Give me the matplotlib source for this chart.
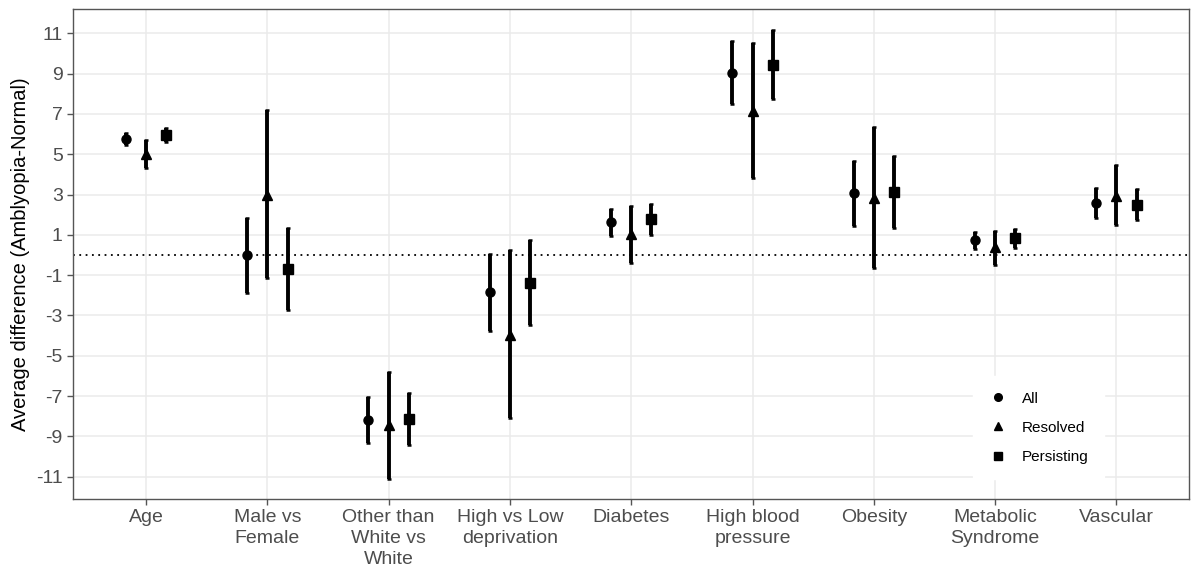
import matplotlib
matplotlib.use("Agg")
import matplotlib.pyplot as plt
from matplotlib.lines import Line2D
import numpy as np

categories = ["Age", "Male vs\nFemale", "Other than\nWhite vs\nWhite", "High vs Low\ndeprivation",
              "Diabetes", "High blood\npressure", "Obesity", "Metabolic\nSyndrome", "Vascular"]
groups = ["All", "Resolved", "Persisting"]

all_est = [5.75, 0.0, -8.2, -1.85, 1.65, 9.05, 3.1, 0.72, 2.6]
all_lo  = [5.45, -1.87, -9.35, -3.75, 0.95, 7.5, 1.45, 0.3, 1.85]
all_hi  = [6.05, 1.85, -7.05, 0.05, 2.3, 10.6, 4.65, 1.15, 3.35]

res_est = [5.0, 3.0, -8.45, -3.95, 1.05, 7.15, 2.85, 0.4, 2.95]
res_lo  = [4.3, -1.15, -11.1, -8.1, -0.4, 3.8, -0.65, -0.5, 1.5]
res_hi  = [5.7, 7.2, -5.8, 0.25, 2.45, 10.5, 6.35, 1.2, 4.45]

per_est = [5.95, -0.7, -8.15, -1.4, 1.8, 9.45, 3.15, 0.82, 2.5]
per_lo  = [5.6, -2.75, -9.45, -3.45, 1.0, 7.75, 1.35, 0.35, 1.75]
per_hi  = [6.3, 1.35, -6.85, 0.75, 2.55, 11.15, 4.9, 1.3, 3.3]

yticks = [-11, -9, -7, -5, -3, -1, 1, 3, 5, 7, 9, 11]

plt.rcParams['font.family'] = ['Liberation Sans', 'DejaVu Sans']

fig = plt.figure(figsize=(12, 5.74), dpi=100)
ax = fig.add_axes([0.061, 0.131, 0.930, 0.853])

x = np.arange(1, len(categories) + 1)
offs = [-0.167, 0.0, 0.167]
markers = ["o", "^", "s"]
msizes = [6.5, 7.5, 6.5]
series = [(all_est, all_lo, all_hi), (res_est, res_lo, res_hi), (per_est, per_lo, per_hi)]

for g, (est, lo, hi), off, m, ms in zip(groups, series, offs, markers, msizes):
    est = np.array(est); lo = np.array(lo); hi = np.array(hi)
    ax.errorbar(x + off, est, yerr=[est - lo, hi - est], fmt=m, color="black",
                ecolor="black", elinewidth=2.8, capsize=1.3, capthick=1.8,
                markersize=ms, zorder=3)

ax.axhline(0, color="black", linestyle=(0, (1, 2.5)), linewidth=1.3, zorder=2)

ax.set_xlim(0.4, 9.6)
ax.set_ylim(-12.1, 12.2)
ax.set_xticks(x)
ax.set_xticklabels(categories, fontsize=14, color="#4d4d4d", linespacing=1.3)
ax.set_yticks(yticks)
ax.set_yticklabels([str(v) for v in yticks], fontsize=14, color="#4d4d4d")
ax.set_ylabel("Average difference (Amblyopia-Normal)", fontsize=14.5, color="black", labelpad=4)

ax.grid(True, color="#ebebeb", linewidth=1.1, zorder=0)
ax.set_axisbelow(True)
for s in ax.spines.values():
    s.set_color("#555555")
    s.set_linewidth(1.0)
ax.tick_params(axis="both", color="#555555", length=4, width=1)

handles = [Line2D([], [], marker=m, color="black", linestyle="none", markersize=5.5)
           for m in markers]
leg = ax.legend(handles, groups, loc="center", bbox_to_anchor=(0.865, 0.145), frameon=True,
                fontsize=11, handletextpad=1.0, labelspacing=1.0, borderpad=1.0,
                handlelength=1.2)
leg.get_frame().set_edgecolor("white")
leg.get_frame().set_facecolor("white")
leg.get_frame().set_alpha(1.0)

fig.savefig("out.png", dpi=100)
